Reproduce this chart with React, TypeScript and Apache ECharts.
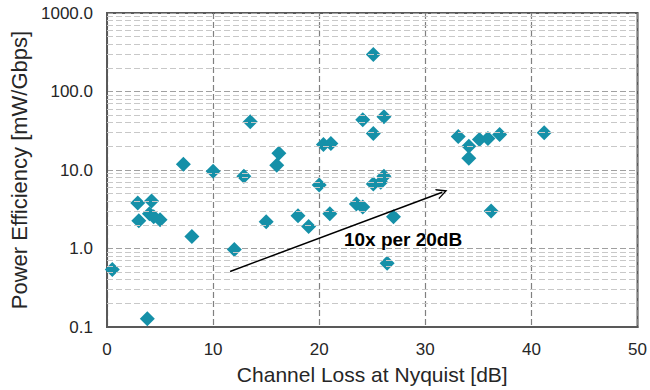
import React, { useEffect, useRef } from 'react';
import * as echarts from 'echarts';

// Channel loss at Nyquist [dB]
const channelLoss = [
  0.5, 2.9, 3.0, 3.8, 4.2, 4.0, 4.4, 5.0, 7.2, 8.0, 10.0, 12.0, 12.9, 13.5, 15.0, 16.0,
  16.2, 18.0, 19.0, 20.0, 20.4, 21.1, 21.0, 23.5, 24.1, 24.1, 25.1, 25.1, 25.1, 25.8,
  26.1, 26.1, 26.4, 27.0, 33.1, 34.1, 34.1, 35.1, 35.9, 36.2, 37.0, 41.2,
];
// Power efficiency [mW/Gbps]
const powerEff = [
  0.54, 3.8, 2.26, 0.127, 4.03, 2.77, 2.53, 2.32, 11.8, 1.42, 9.64, 0.97, 8.34, 41.2, 2.19, 11.5,
  16.3, 2.61, 1.9, 6.42, 21.1, 21.8, 2.77, 3.7, 3.39, 43.7, 297, 29.1, 6.61, 7.0,
  47.7, 8.34, 0.65, 2.53, 26.7, 20.0, 14.1, 24.4, 25.2, 3.0, 28.3, 29.9,
];

const xTicks = [0, 10, 20, 30, 40, 50];
const yDecades = [0.1, 1, 10, 100, 1000];

// trend annotation
const trendStart = [11.6, 0.51];
const trendEnd = [31.6, 5.2];
const trendLabel = '10x per 20dB';
const trendLabelPos = [27.9, 1.3];

const FONT = '"Liberation Sans", Arial, sans-serif';

export default function App() {
  const ref = useRef<HTMLDivElement>(null);
  useEffect(() => {
    if (!ref.current) return;
    const chart = echarts.init(ref.current, undefined, { renderer: 'svg' });
    const minorVals: number[] = [];
    for (let d = 0; d < yDecades.length - 1; d++) {
      for (let k = 2; k <= 9; k++) minorVals.push(+(yDecades[d] * k).toPrecision(3));
    }
    const points = channelLoss.map((x, i) => [x, powerEff[i]]);
    chart.setOption({
      animation: false,
      grid: {
        left: 105, right: 12, top: 13, bottom: 57,
        show: true, borderColor: '#595959', borderWidth: 2, backgroundColor: 'transparent',
      },
      xAxis: {
        type: 'value', min: xTicks[0], max: xTicks[xTicks.length - 1], interval: 10,
        name: 'Channel Loss at Nyquist [dB]', nameLocation: 'middle', nameGap: 37,
        nameTextStyle: { fontSize: 21, color: '#262626', fontFamily: FONT },
        axisLine: { show: true, lineStyle: { color: '#595959', width: 2 } },
        axisTick: { show: false },
        axisLabel: { fontSize: 17, color: '#262626', fontFamily: FONT, margin: 14 },
        splitLine: { show: true, lineStyle: { color: '#808080', type: [6, 3], width: 1.2 } },
      },
      yAxis: {
        type: 'log', logBase: 10, min: 0.1, max: 1000,
        name: 'Power Efficiency [mW/Gbps]', nameLocation: 'middle', nameGap: 77,
        nameTextStyle: { fontSize: 22, color: '#262626', fontFamily: FONT },
        axisLine: { show: true, lineStyle: { color: '#595959', width: 2 } },
        axisTick: { show: false },
        axisLabel: {
          fontSize: 17, color: '#262626', fontFamily: FONT, margin: 14,
          formatter: (v: number) => v.toFixed(1),
        },
        splitLine: { show: true, lineStyle: { color: '#a0a0a0', type: [6, 3], width: 1.2 } },
      },
      series: [
        {
          type: 'line', data: [], z: 1, silent: true,
          markLine: {
            silent: true, symbol: 'none', animation: false,
            label: { show: false },
            lineStyle: { color: '#c8c8c8', type: [6, 3], width: 1 },
            emphasis: { disabled: true },
            data: minorVals.map((v) => ({ yAxis: v })),
          },
        },
        {
          type: 'scatter', z: 3, data: points, symbol: 'diamond', symbolSize: 15,
          itemStyle: { color: '#1590A8', opacity: 1 },
        },
        {
          type: 'line', data: [], z: 4, silent: true,
          markLine: {
            silent: true, animation: false,
            symbol: ['none', 'path://M0,10 L5,0 L10,10 L8.6,10 L5,2.8 L1.4,10 Z'],
            symbolSize: [11, 11],
            label: { show: false },
            lineStyle: { color: '#000', type: 'solid', width: 1.5 },
            itemStyle: { color: '#000' },
            data: [[{ coord: trendStart }, { coord: trendEnd }]],
          },
          markPoint: {
            silent: true, symbol: 'circle', symbolSize: 1,
            itemStyle: { color: 'transparent' },
            label: {
              show: true, position: 'inside', formatter: trendLabel,
              fontSize: 19, fontWeight: 'bold', color: '#000', fontFamily: FONT,
            },
            data: [{ coord: trendLabelPos }],
          },
        },
      ],
    });
    return () => chart.dispose();
  }, []);
  return <div ref={ref} style={{ width: 650, height: 390, position: 'absolute', left: 0, top: 0 }} />;
}
